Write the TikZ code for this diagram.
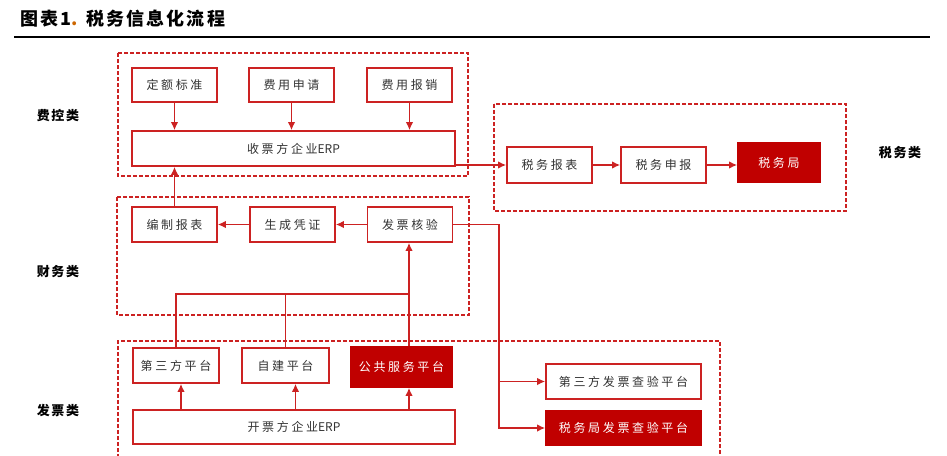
\documentclass[tikz,border=0pt]{standalone}
\usepackage{fontspec}
\setmainfont{Noto Sans CJK SC}
\usetikzlibrary{arrows.meta}
\definecolor{hred}{HTML}{C00000}
\definecolor{bred}{HTML}{CC2222}
\definecolor{txt}{HTML}{333333}
\newcommand{\erp}{{\addfontfeature{LetterSpace=0}ERP}}

\begin{document}
\begin{tikzpicture}[x=1pt,y=-1pt,
	box/.style={draw=bred, line width=1.6pt, fill=white, text=txt, minimum width=85pt, minimum height=35pt, inner sep=0pt,
		font=\fontsize{12}{14}\selectfont\addfontfeature{LetterSpace=22}},
	hbox/.style={box, fill=hred, draw=hred, text=white},
	area/.style={draw=bred, line width=1.5pt, dash pattern=on 4pt off 2pt},
	arr/.style={draw=bred, line width=1.8pt, -{Latex[length=8pt,width=7.5pt]}},
	ln/.style={draw=bred, line width=1.8pt},
	kind/.style={font=\fontsize{13}{15}\selectfont\bfseries\addfontfeature{LetterSpace=12}}]
	\clip (0,0) rectangle (947,455);
	% title
	\node[anchor=west, inner sep=0pt, font=\fontsize{18}{20}\selectfont\bfseries\addfontfeature{LetterSpace=12}] (title) at (20,19) {图表1{\color{orange!80!black}.} 税务信息化流程};
	\draw[line width=1.8pt] (14,37) -- (930,37);
	
	% dashed areas
	\draw[area] (118,53) rectangle (468,176);
	\draw[area] (494,104) rectangle (846,211);
	\draw[area] (117,197) rectangle (469,315);
	\draw[area] (118,470) -- (118,341) -- (720,341) -- (720,470);
	
	\node[kind] (fk) at (58,116) {费控类};
	\node[kind] (cw) at (58,272) {财务类};
	\node[kind] (fp) at (58,411) {发票类};
	\node[kind] (sw) at (900,153) {税务类};
	
	% fee control
	\node[box, minimum height=34pt] (dejb) at (174.5,85) {定额标准};
	\node[box, minimum height=34pt] (fysq) at (291.5,85) {费用申请};
	\node[box, minimum height=34pt] (fybx) at (409.5,85) {费用报销};
	\node[box, minimum width=323pt] (spErp) at (293.5,148.5) {收票方企业\erp};
	\draw[arr] (dejb) -- (dejb |- spErp.north);
	\draw[arr] (fysq) -- (fysq |- spErp.north);
	\draw[arr] (fybx) -- (fybx |- spErp.north);
	
	% tax
	\node[box, minimum height=36pt] (swbb) at (549.5,165) {税务报表};
	\node[box, minimum height=36pt] (swsb) at (663.5,165) {税务申报};
	\node[hbox, minimum width=82pt, minimum height=39pt] (swj) at (779,162.5) {税务局};
	\draw[arr] (swbb.west -| spErp.east) -- (swbb.west);
	\draw[arr] (swbb) -- (swsb);
	\draw[arr] (swsb) -- (swsb -| swj.west);
	
	% finance
	\node[box] (bzbb) at (174.5,224.5) {编制报表};
	\node[box] (scpz) at (292.5,224.5) {生成凭证};
	\node[box] (fphy) at (410,224.5) {发票核验};
	\draw[arr] (fphy) -- (scpz);
	\draw[arr] (scpz) -- (bzbb);
	\draw[arr] (bzbb) -- (bzbb |- spErp.south);
	
	% invoices
	\node[box, minimum width=86pt] (dsf) at (176,365.5) {第三方平台};
	\node[box, minimum width=87pt] (zj) at (285.5,365.5) {自建平台};
	\node[hbox, minimum width=101pt, minimum height=40pt] (ggfw) at (401.5,367) {公共服务平台};
	\node[box, minimum width=322pt, minimum height=34pt] (kpErp) at (294,427) {开票方企业\erp};
	\node[box, minimum width=155pt] (dsfcy) at (623.5,381.5) {第三方发票查验平台};
	\node[hbox, minimum width=155pt, minimum height=34pt] (swjcy) at (623.5,428) {税务局发票查验平台};
	
	\draw[arr] ([xshift=5pt]dsf.south |- kpErp.north) -- ([xshift=5pt]dsf.south);
	\draw[arr] ([xshift=10pt]zj.south |- kpErp.north) -- ([xshift=10pt]zj.south);
	\draw[arr] ([xshift=7.5pt]ggfw.south |- kpErp.north) -- ([xshift=7.5pt]ggfw.south);
	
	\coordinate (hub) at (409,294);
	\draw[arr] (ggfw.north -| hub) -- (hub |- fphy.south);
	\draw[ln] (dsf.north) |- (hub);
	\draw[ln] (zj.north) -- (zj.north |- hub);
	
	\coordinate (vx) at (499,0);
	\draw[arr] (fphy.east) -| (vx |- dsfcy.west) -- (dsfcy.west);
	\draw[arr] (vx |- dsfcy.west) |- (swjcy.west);
\end{tikzpicture}
\end{document}
